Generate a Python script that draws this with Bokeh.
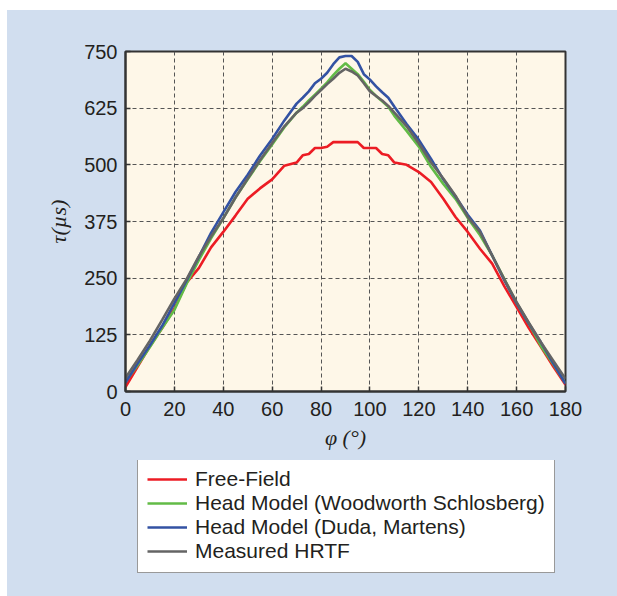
from bokeh.plotting import figure
from bokeh.layouts import column
from bokeh.models import (ColumnDataSource, Legend, LegendItem, FixedTicker,
                          Range1d)
from bokeh.embed import file_html
from bokeh.resources import INLINE

# ---------------- data ----------------
phi = [0, 5, 10, 15, 20, 25, 30, 35, 40, 45, 50, 55, 60, 65, 70, 72.5, 75, 77.5,
       80, 82.5, 85, 87.5, 90, 92.5, 95, 97.5, 100, 102.5, 105, 107.5, 110, 115,
       120, 125, 130, 135, 140, 145, 150, 155, 160, 165, 170, 175, 180]

free_field = [10, 55, 100, 140, 183, 240, 272, 318, 352, 388, 425, 448, 468, 498,
              505, 521, 524, 537, 537, 540, 550, 550, 550, 550, 550, 537, 537, 537,
              524, 521, 505, 500, 484, 462, 425, 385, 352, 315, 282, 232, 186, 140,
              98, 55, 15]

woodworth = [22, 58, 98, 140, 180, 238, 290, 338, 382, 428, 468, 508, 545, 583,
             615, 628, 642, 655, 668, 682, 698, 712, 724, 712, 700, 683, 665, 652,
             640, 628, 608, 575, 540, 495, 458, 425, 383, 345, 300, 248, 195, 150,
             100, 60, 18]

duda = [20, 62, 102, 145, 195, 245, 297, 350, 395, 440, 478, 520, 557, 598,
        635, 648, 662, 680, 690, 703, 722, 737, 740, 740, 727, 700, 688, 673,
        660, 648, 628, 590, 555, 513, 468, 430, 390, 355, 300, 245, 195, 150,
        108, 62, 17]

measured = [30, 70, 112, 158, 205, 248, 298, 342, 382, 428, 470, 510, 548, 585,
            615, 625, 638, 652, 665, 678, 690, 703, 712, 706, 697, 680, 662, 652,
            642, 630, 615, 585, 547, 505, 470, 432, 385, 352, 300, 247, 197, 152,
            108, 68, 28]

x_ticks = [0, 20, 40, 60, 80, 100, 120, 140, 160, 180]
y_ticks = [0, 125, 250, 375, 500, 625, 750]

series_labels = ["Free-Field", "Head Model (Woodworth Schlosberg)",
                 "Head Model (Duda, Martens)", "Measured HRTF"]

# ---------------- styling ----------------
TXT = "#231f20"
FONT = "Liberation Sans"
PANEL = "#d1deef"
colors = ["#ec1c24", "#62bb46", "#3352a3", "#646464"]
cols = ["ff", "ws", "dm", "hr"]

src = ColumnDataSource(dict(phi=phi, ff=free_field, ws=woodworth,
                            dm=duda, hr=measured))

# ---------------- main chart ----------------
p = figure(width=610, height=450,
           x_range=Range1d(0, 180), y_range=Range1d(0, 750),
           output_backend="svg", toolbar_location=None,
           min_border_left=118, min_border_right=52,
           min_border_top=41, min_border_bottom=69)

p.background_fill_color = "#fef7e8"
p.border_fill_color = PANEL
p.outline_line_color = "#333333"
p.outline_line_width = 2

p.xaxis.ticker = FixedTicker(ticks=x_ticks)
p.yaxis.ticker = FixedTicker(ticks=y_ticks)
for ax in (p.xaxis, p.yaxis):
    ax.axis_line_color = "#333333"
    ax.axis_line_width = 2
    ax.major_tick_in = 5
    ax.major_tick_out = 0
    ax.major_tick_line_color = "#333333"
    ax.major_tick_line_width = 1.5
    ax.minor_tick_line_color = None
    ax.major_label_text_font = FONT
    ax.major_label_text_font_size = "20px"
    ax.major_label_text_color = TXT
    ax.axis_label_text_font = "Liberation Serif"
    ax.axis_label_text_font_style = "italic"
    ax.axis_label_text_font_size = "22px"
    ax.axis_label_text_color = TXT
p.xaxis.major_label_standoff = 10
p.yaxis.major_label_standoff = 8
p.xaxis.axis_label = "φ (°)"
p.yaxis.axis_label = "τ(µs)"
p.xaxis.axis_label_standoff = 6
p.yaxis.axis_label_standoff = 10

p.grid.grid_line_color = "#555555"
p.grid.grid_line_dash = "4 3"
p.grid.grid_line_width = 1
p.xgrid.ticker = FixedTicker(ticks=x_ticks)
p.ygrid.ticker = FixedTicker(ticks=y_ticks)

for c, col in zip(cols, colors):
    p.line("phi", c, source=src, line_color=col, line_width=2.6)

# ---------------- legend panel (below the chart) ----------------
q = figure(width=610, height=136,
           x_range=Range1d(0, 180), y_range=Range1d(1000, 1100),
           output_backend="svg", toolbar_location=None,
           x_axis_location=None, y_axis_location=None,
           min_border=0)
q.background_fill_color = PANEL
q.border_fill_color = PANEL
q.outline_line_color = None
q.grid.visible = False
q.styles = {"background-color": PANEL}

leg_renderers = [q.line("phi", c, source=src, line_color=col, line_width=2.6)
                 for c, col in zip(cols, colors)]

legend = Legend(items=[LegendItem(label=lab, renderers=[r])
                       for lab, r in zip(series_labels, leg_renderers)],
                location=(12, 23), margin=0, padding=9,
                glyph_width=40, label_standoff=8, spacing=0,
                label_text_font=FONT, label_text_font_size="21px",
                label_text_color=TXT,
                border_line_color="#333333", border_line_width=1.5,
                background_fill_color="white", background_fill_alpha=1.0)
q.add_layout(legend)

layout = column(p, q, spacing=0)
layout.styles = {"margin-left": "7px", "margin-top": "10px",
                 "background-color": PANEL}

open("out.html", "w").write(file_html(layout, INLINE))
